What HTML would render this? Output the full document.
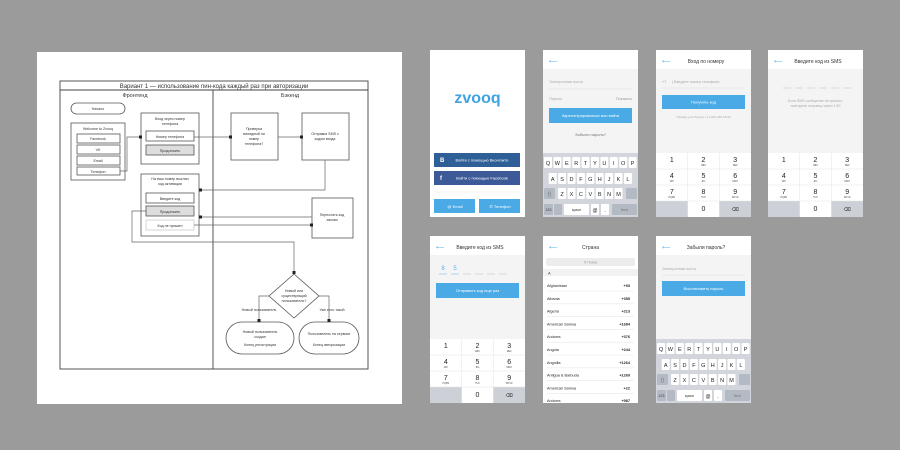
<!DOCTYPE html>
<html><head><meta charset="utf-8"><style>
html,body{margin:0;padding:0;background:#9b9b9b;width:900px;height:450px;overflow:hidden}
svg{display:block;font-family:"Liberation Sans","Noto Sans CJK SC",sans-serif}
</style></head><body>
<svg width="900" height="450" viewBox="0 0 900 450" xmlns="http://www.w3.org/2000/svg">
<rect width="900" height="450" fill="#9b9b9b"/>
<!-- Diagram panel -->
<rect x="37" y="52" width="365" height="352" fill="#fff"/>
<g stroke="#444" stroke-width="0.9" fill="none">
<rect x="60" y="81" width="308" height="288"/>
<line x1="60" y1="90" x2="368" y2="90"/>
<line x1="213" y1="90" x2="213" y2="369"/>
</g>
<g font-size="5" fill="#333" text-anchor="middle">
<text x="214" y="88" font-size="6">Вариант 1 — использование пин-кода каждый раз при авторизации</text>
<text x="135" y="97" font-size="5.5">Фронтенд</text>
<text x="290" y="97" font-size="5.5">Бэкенд</text>
</g>
<g stroke="#555" stroke-width="0.8" fill="#fff">
<rect x="71" y="103" width="54" height="11" rx="5.5"/>
<rect x="71" y="123" width="54" height="57"/>
<rect x="77" y="134" width="43" height="9"/>
<rect x="77" y="145" width="43" height="9"/>
<rect x="77" y="156" width="43" height="9"/>
<rect x="77" y="167" width="43" height="8"/>
<rect x="141" y="113" width="58" height="51"/>
<rect x="146" y="131" width="48" height="10"/>
<rect x="146" y="145" width="48" height="10" fill="#ddd"/>
<rect x="141" y="174" width="58" height="62"/>
<rect x="146" y="193" width="48" height="10"/>
<rect x="146" y="206" width="48" height="10" fill="#ddd"/>
<rect x="146" y="220" width="48" height="10" stroke="#ccc"/>
<rect x="231" y="113" width="47" height="47"/>
<rect x="302" y="113" width="47" height="47"/>
<rect x="312" y="198" width="41" height="40"/>
<polygon points="294,274 319,296 294,318 269,296"/>
<rect x="226" y="322" width="68" height="32" rx="16"/>
<rect x="299" y="322" width="60" height="32" rx="16"/>
</g>
<g stroke="#666" stroke-width="0.7" fill="none">
<polyline points="120,171 127,171 127,137 141,137"/>
<line x1="194" y1="137" x2="231" y2="137"/>
<line x1="278" y1="137" x2="302" y2="137"/>
<polyline points="325,160 325,190 199,190"/>
<line x1="312" y1="217" x2="199" y2="217"/>
<line x1="194" y1="225" x2="312" y2="225"/>
<polyline points="146,211 132,211 132,242 294,242 294,274"/>
<polyline points="269,296 259,296 259,322"/>
<polyline points="319,296 329,296 329,322"/>
</g>
<g fill="#222">
<rect x="139" y="135.5" width="3" height="3"/><rect x="229" y="135.5" width="3" height="3"/><rect x="300" y="135.5" width="3" height="3"/>
<rect x="199" y="188.5" width="3" height="3"/><rect x="199" y="215.5" width="3" height="3"/><rect x="310" y="223.5" width="3" height="3"/>
<rect x="292.5" y="271" width="3" height="3"/><rect x="257.5" y="319" width="3" height="3"/><rect x="327.5" y="319" width="3" height="3"/>
</g>
<g font-size="3.6" fill="#333" text-anchor="middle">
<text x="98" y="110">Начало</text>
<text x="98" y="130">Welcome to Zvooq</text>
<text x="98" y="140">Facebook</text><text x="98" y="151">VK</text><text x="98" y="162">Email</text><text x="98" y="173">Телефон</text>
<text x="170" y="120">Вход через номер</text><text x="170" y="125">телефона</text>
<text x="170" y="138">Номер телефона</text><text x="170" y="152">Продолжить</text>
<text x="170" y="180">На ваш номер выслан</text><text x="170" y="185">код активации</text>
<text x="170" y="200">Введите код</text><text x="170" y="213">Продолжить</text><text x="170" y="227">Код не пришел</text>
<text x="254" y="130">Проверка</text><text x="254" y="135">валидный ли</text><text x="254" y="140">номер</text><text x="254" y="145">телефона?</text>
<text x="325" y="135">Отправка SMS с</text><text x="325" y="140">кодом входа</text>
<text x="332" y="216">Переслать код</text><text x="332" y="221">заново</text>
<text x="294" y="292">Новый или</text><text x="294" y="297">существующий</text><text x="294" y="302">пользователь?</text>
<text x="259" y="311">Новый пользователь</text><text x="332" y="311">Уже есть такой</text>
<text x="260" y="333">Новый пользователь</text><text x="260" y="338">создан</text><text x="260" y="346">Конец регистрации</text>
<text x="329" y="335">Пользователь на сервисе</text><text x="329" y="346">Конец авторизации</text>
</g>

<!-- ===== Row 1 ===== -->
<!-- Phone 1 -->
<g transform="translate(430,50)">
<rect width="95" height="167" fill="#fff"/>
<text x="47.5" y="53" font-size="16" font-weight="bold" fill="#3ea3e2" text-anchor="middle">zvooq</text>
<rect x="4" y="103" width="86" height="14" fill="#2f5f97"/>
<rect x="4" y="121" width="86" height="14" fill="#3d5a98"/>
<text x="10" y="112" font-size="6" fill="#fff" font-weight="bold">B</text>
<text x="10" y="130" font-size="6" fill="#fff" font-weight="bold">f</text>
<text x="52" y="111.5" font-size="4" fill="#fff" text-anchor="middle">Войти с помощью Вконтакте</text>
<text x="52" y="129.5" font-size="4" fill="#fff" text-anchor="middle">Войти с помощью Facebook</text>
<line x1="4" y1="142" x2="90" y2="142" stroke="#eee" stroke-width="0.8"/>
<rect x="4" y="149" width="41" height="14" fill="#4aaae6"/>
<rect x="49" y="149" width="41" height="14" fill="#4aaae6"/>
<text x="25" y="158" font-size="4" fill="#fff" text-anchor="middle">@ Email</text>
<text x="70" y="158" font-size="4" fill="#fff" text-anchor="middle">✆ Телефон</text>
</g>
<!-- Phone 2 -->
<g transform="translate(543,50)">
<rect width="95" height="167" fill="#f4f4f4"/>
<rect width="95" height="19" fill="#fff"/>
<text x="6" y="13" font-size="6" fill="#5bb0e8">⟵</text>
<text x="6" y="33" font-size="3.8" fill="#aaa">Электронная почта</text>
<line x1="6" y1="39" x2="89" y2="39" stroke="#ddd" stroke-width="0.6"/>
<text x="6" y="50" font-size="3.8" fill="#aaa">Пароль</text>
<text x="89" y="50" font-size="3.8" fill="#999" text-anchor="end">Показать</text>
<rect x="6" y="58" width="83" height="15" fill="#4aaae6"/>
<text x="47.5" y="67" font-size="4" fill="#fff" text-anchor="middle">Зарегистрироваться или войти</text>
<text x="47.5" y="86" font-size="4" fill="#777" text-anchor="middle">Забыли пароль?</text>
<g transform="translate(0,103)">
<rect width="95" height="64" fill="#d2d5db"/>
<g fill="#fff"><rect x="1" y="4" width="8" height="11" rx="1"/><rect x="10.4" y="4" width="8" height="11" rx="1"/><rect x="19.8" y="4" width="8" height="11" rx="1"/><rect x="29.2" y="4" width="8" height="11" rx="1"/><rect x="38.6" y="4" width="8" height="11" rx="1"/><rect x="48" y="4" width="8" height="11" rx="1"/><rect x="57.4" y="4" width="8" height="11" rx="1"/><rect x="66.8" y="4" width="8" height="11" rx="1"/><rect x="76.2" y="4" width="8" height="11" rx="1"/><rect x="85.6" y="4" width="8" height="11" rx="1"/>
<rect x="5.7" y="20" width="8" height="11" rx="1"/><rect x="15.1" y="20" width="8" height="11" rx="1"/><rect x="24.5" y="20" width="8" height="11" rx="1"/><rect x="33.9" y="20" width="8" height="11" rx="1"/><rect x="43.3" y="20" width="8" height="11" rx="1"/><rect x="52.7" y="20" width="8" height="11" rx="1"/><rect x="62.1" y="20" width="8" height="11" rx="1"/><rect x="71.5" y="20" width="8" height="11" rx="1"/><rect x="80.9" y="20" width="8" height="11" rx="1"/>
<rect x="15.1" y="35" width="8" height="11" rx="1"/><rect x="24.5" y="35" width="8" height="11" rx="1"/><rect x="33.9" y="35" width="8" height="11" rx="1"/><rect x="43.3" y="35" width="8" height="11" rx="1"/><rect x="52.7" y="35" width="8" height="11" rx="1"/><rect x="62.1" y="35" width="8" height="11" rx="1"/><rect x="71.5" y="35" width="8" height="11" rx="1"/>
<rect x="21" y="51" width="25" height="11" rx="1"/><rect x="48" y="51" width="8" height="11" rx="1"/><rect x="58" y="51" width="8" height="11" rx="1"/></g>
<g fill="#b4bac3"><rect x="1" y="35" width="11" height="11" rx="1"/><rect x="83" y="35" width="11" height="11" rx="1"/><rect x="1" y="51" width="9" height="11" rx="1"/><rect x="11" y="51" width="8" height="11" rx="1"/><rect x="69" y="51" width="25" height="11" rx="1"/></g>
<g font-size="5.5" fill="#222" text-anchor="middle"><text x="5" y="12">Q</text><text x="14.4" y="12">W</text><text x="23.8" y="12">E</text><text x="33.2" y="12">R</text><text x="42.6" y="12">T</text><text x="52" y="12">Y</text><text x="61.4" y="12">U</text><text x="70.8" y="12">I</text><text x="80.2" y="12">O</text><text x="89.6" y="12">P</text>
<text x="9.7" y="28">A</text><text x="19.1" y="28">S</text><text x="28.5" y="28">D</text><text x="37.9" y="28">F</text><text x="47.3" y="28">G</text><text x="56.7" y="28">H</text><text x="66.1" y="28">J</text><text x="75.5" y="28">K</text><text x="84.9" y="28">L</text>
<text x="19.1" y="43">Z</text><text x="28.5" y="43">X</text><text x="37.9" y="43">C</text><text x="47.3" y="43">V</text><text x="56.7" y="43">B</text><text x="66.1" y="43">N</text><text x="75.5" y="43">M</text>
<text x="6.5" y="43" font-size="5">⇧</text><text x="52" y="59" font-size="5">@</text><text x="62" y="59">.</text></g>
<g font-size="3.5" fill="#333" text-anchor="middle"><text x="5.5" y="58">123</text><text x="33.5" y="58">space</text><text x="81.5" y="58" fill="#777">Next</text></g>
</g>
</g>
<!-- Phone 3 -->
<g transform="translate(656,50)">
<rect width="95" height="167" fill="#f4f4f4"/>
<rect width="95" height="19" fill="#fff"/>
<text x="6" y="13" font-size="6" fill="#5bb0e8">⟵</text>
<text x="50" y="13" font-size="5" fill="#333" text-anchor="middle">Вход по номеру</text>
<text x="6" y="33" font-size="3.8" fill="#5bb0e8">+7</text>
<text x="16" y="33" font-size="3.8" fill="#aaa">| Введите номер телефона</text>
<line x1="6" y1="38" x2="89" y2="38" stroke="#ddd" stroke-width="0.6"/>
<rect x="6" y="45" width="83" height="14" fill="#4aaae6"/>
<text x="47.5" y="53.5" font-size="4" fill="#fff" text-anchor="middle">Получить код</text>
<text x="47.5" y="68" font-size="3" fill="#aaa" text-anchor="middle">Пример для России +7 (123) 456-78-90</text>
<g transform="translate(0,103)">
<rect width="95" height="64" fill="#fff"/>
<rect x="0" y="48" width="31.7" height="16" fill="#cdd1d7"/><rect x="63.3" y="48" width="31.7" height="16" fill="#cdd1d7"/>
<g stroke="#e3e3e3" stroke-width="0.5"><line x1="0" y1="16" x2="95" y2="16"/><line x1="0" y1="32" x2="95" y2="32"/><line x1="0" y1="48" x2="95" y2="48"/><line x1="31.7" y1="0" x2="31.7" y2="64"/><line x1="63.3" y1="0" x2="63.3" y2="64"/></g>
<g font-size="7" fill="#222" text-anchor="middle"><text x="15.8" y="9">1</text><text x="47.5" y="9">2</text><text x="79.2" y="9">3</text><text x="15.8" y="25">4</text><text x="47.5" y="25">5</text><text x="79.2" y="25">6</text><text x="15.8" y="41">7</text><text x="47.5" y="41">8</text><text x="79.2" y="41">9</text><text x="47.5" y="58">0</text><text x="79.2" y="58" font-size="5">⌫</text></g>
<g font-size="2.3" fill="#444" text-anchor="middle"><text x="47.5" y="13">ABC</text><text x="79.2" y="13">DEF</text><text x="15.8" y="29">GHI</text><text x="47.5" y="29">JKL</text><text x="79.2" y="29">MNO</text><text x="15.8" y="45">PQRS</text><text x="47.5" y="45">TUV</text><text x="79.2" y="45">WXYZ</text></g>
</g>
</g>
<!-- Phone 4 -->
<g transform="translate(768,50)">
<rect width="95" height="167" fill="#f4f4f4"/>
<rect width="95" height="19" fill="#fff"/>
<text x="6" y="13" font-size="6" fill="#5bb0e8">⟵</text>
<text x="50" y="13" font-size="5" fill="#333" text-anchor="middle">Введите код из SMS</text>
<g stroke="#ccc" stroke-width="0.7"><line x1="15" y1="38" x2="23" y2="38"/><line x1="27" y1="38" x2="35" y2="38"/><line x1="39" y1="38" x2="47" y2="38"/><line x1="51" y1="38" x2="59" y2="38"/><line x1="63" y1="38" x2="71" y2="38"/><line x1="75" y1="38" x2="83" y2="38"/></g>
<text x="47.5" y="52" font-size="3.5" fill="#aaa" text-anchor="middle">Если SMS сообщение не пришло,</text>
<text x="47.5" y="57" font-size="3.5" fill="#aaa" text-anchor="middle">повторите отправку через 1:50</text>
<g transform="translate(0,103)">
<rect width="95" height="64" fill="#fff"/>
<rect x="0" y="48" width="31.7" height="16" fill="#cdd1d7"/><rect x="63.3" y="48" width="31.7" height="16" fill="#cdd1d7"/>
<g stroke="#e3e3e3" stroke-width="0.5"><line x1="0" y1="16" x2="95" y2="16"/><line x1="0" y1="32" x2="95" y2="32"/><line x1="0" y1="48" x2="95" y2="48"/><line x1="31.7" y1="0" x2="31.7" y2="64"/><line x1="63.3" y1="0" x2="63.3" y2="64"/></g>
<g font-size="7" fill="#222" text-anchor="middle"><text x="15.8" y="9">1</text><text x="47.5" y="9">2</text><text x="79.2" y="9">3</text><text x="15.8" y="25">4</text><text x="47.5" y="25">5</text><text x="79.2" y="25">6</text><text x="15.8" y="41">7</text><text x="47.5" y="41">8</text><text x="79.2" y="41">9</text><text x="47.5" y="58">0</text><text x="79.2" y="58" font-size="5">⌫</text></g>
<g font-size="2.3" fill="#444" text-anchor="middle"><text x="47.5" y="13">ABC</text><text x="79.2" y="13">DEF</text><text x="15.8" y="29">GHI</text><text x="47.5" y="29">JKL</text><text x="79.2" y="29">MNO</text><text x="15.8" y="45">PQRS</text><text x="47.5" y="45">TUV</text><text x="79.2" y="45">WXYZ</text></g>
</g>
</g>

<!-- ===== Row 2 ===== -->
<!-- Phone 5 -->
<g transform="translate(430,236)">
<rect width="95" height="167" fill="#f4f4f4"/>
<rect width="95" height="19" fill="#fff"/>
<text x="6" y="13" font-size="6" fill="#5bb0e8">⟵</text>
<text x="50" y="13" font-size="5" fill="#333" text-anchor="middle">Введите код из SMS</text>
<text x="13" y="34" font-size="6" fill="#5bb0e8" text-anchor="middle">8</text>
<text x="25" y="34" font-size="6" fill="#5bb0e8" text-anchor="middle">5</text>
<g stroke="#ccc" stroke-width="0.7"><line x1="9" y1="38" x2="17" y2="38" stroke="#8cc8ee"/><line x1="21" y1="38" x2="29" y2="38" stroke="#8cc8ee"/><line x1="33" y1="38" x2="41" y2="38"/><line x1="45" y1="38" x2="53" y2="38"/><line x1="57" y1="38" x2="65" y2="38"/><line x1="69" y1="38" x2="77" y2="38"/></g>
<rect x="6" y="47" width="83" height="15" fill="#4aaae6"/>
<text x="47.5" y="56" font-size="4" fill="#fff" text-anchor="middle">Отправить код еще раз</text>
<g transform="translate(0,103)">
<rect width="95" height="64" fill="#fff"/>
<rect x="0" y="48" width="31.7" height="16" fill="#cdd1d7"/><rect x="63.3" y="48" width="31.7" height="16" fill="#cdd1d7"/>
<g stroke="#e3e3e3" stroke-width="0.5"><line x1="0" y1="16" x2="95" y2="16"/><line x1="0" y1="32" x2="95" y2="32"/><line x1="0" y1="48" x2="95" y2="48"/><line x1="31.7" y1="0" x2="31.7" y2="64"/><line x1="63.3" y1="0" x2="63.3" y2="64"/></g>
<g font-size="7" fill="#222" text-anchor="middle"><text x="15.8" y="9">1</text><text x="47.5" y="9">2</text><text x="79.2" y="9">3</text><text x="15.8" y="25">4</text><text x="47.5" y="25">5</text><text x="79.2" y="25">6</text><text x="15.8" y="41">7</text><text x="47.5" y="41">8</text><text x="79.2" y="41">9</text><text x="47.5" y="58">0</text><text x="79.2" y="58" font-size="5">⌫</text></g>
<g font-size="2.3" fill="#444" text-anchor="middle"><text x="47.5" y="13">ABC</text><text x="79.2" y="13">DEF</text><text x="15.8" y="29">GHI</text><text x="47.5" y="29">JKL</text><text x="79.2" y="29">MNO</text><text x="15.8" y="45">PQRS</text><text x="47.5" y="45">TUV</text><text x="79.2" y="45">WXYZ</text></g>
</g>
</g>
<!-- Phone 6 -->
<g transform="translate(543,236)">
<rect width="95" height="167" fill="#fff"/>
<text x="6" y="13" font-size="6" fill="#5bb0e8">⟵</text>
<text x="47.5" y="13" font-size="5" fill="#333" text-anchor="middle">Страна</text>
<rect x="3" y="22" width="89" height="8" rx="2" fill="#ececec"/>
<text x="47.5" y="27.5" font-size="3.5" fill="#999" text-anchor="middle">⚲ Поиск</text>
<rect x="0" y="33" width="95" height="7" fill="#f2f2f2"/>
<text x="5" y="38.5" font-size="4" fill="#333">A</text>
<g font-size="3.8" fill="#222">
<text x="4" y="51">Afghanistan</text><text x="4" y="63.8">Albania</text><text x="4" y="76.6">Algeria</text><text x="4" y="89.4">American Samoa</text><text x="4" y="102.2">Andorra</text><text x="4" y="115">Angola</text><text x="4" y="127.8">Anguilla</text><text x="4" y="140.6">Antigua &amp; Barbuda</text><text x="4" y="153.4">American Samoa</text><text x="4" y="166.2">Andorra</text>
</g>
<g font-size="3.8" fill="#222" text-anchor="end" font-weight="bold">
<text x="87" y="51">+93</text><text x="87" y="63.8">+355</text><text x="87" y="76.6">+213</text><text x="87" y="89.4">+1684</text><text x="87" y="102.2">+376</text><text x="87" y="115">+244</text><text x="87" y="127.8">+1264</text><text x="87" y="140.6">+1269</text><text x="87" y="153.4">+22</text><text x="87" y="166.2">+987</text>
</g>
<g stroke="#e8e8e8" stroke-width="0.6"><line x1="4" y1="55" x2="91" y2="55"/><line x1="4" y1="67.8" x2="91" y2="67.8"/><line x1="4" y1="80.6" x2="91" y2="80.6"/><line x1="4" y1="93.4" x2="91" y2="93.4"/><line x1="4" y1="106.2" x2="91" y2="106.2"/><line x1="4" y1="119" x2="91" y2="119"/><line x1="4" y1="131.8" x2="91" y2="131.8"/><line x1="4" y1="144.6" x2="91" y2="144.6"/><line x1="4" y1="157.4" x2="91" y2="157.4"/></g>
</g>
<!-- Phone 7 -->
<g transform="translate(656,236)">
<rect width="95" height="167" fill="#f4f4f4"/>
<rect width="95" height="19" fill="#fff"/>
<text x="6" y="13" font-size="6" fill="#5bb0e8">⟵</text>
<text x="50" y="13" font-size="5" fill="#333" text-anchor="middle">Забыли пароль?</text>
<text x="6" y="34" font-size="3.8" fill="#aaa">Электронная почта</text>
<line x1="6" y1="39" x2="89" y2="39" stroke="#ddd" stroke-width="0.6"/>
<rect x="6" y="45" width="83" height="15" fill="#4aaae6"/>
<text x="47.5" y="54" font-size="4" fill="#fff" text-anchor="middle">Восстановить пароль</text>
<g transform="translate(0,103)">
<rect width="95" height="64" fill="#d2d5db"/>
<g fill="#fff"><rect x="1" y="4" width="8" height="11" rx="1"/><rect x="10.4" y="4" width="8" height="11" rx="1"/><rect x="19.8" y="4" width="8" height="11" rx="1"/><rect x="29.2" y="4" width="8" height="11" rx="1"/><rect x="38.6" y="4" width="8" height="11" rx="1"/><rect x="48" y="4" width="8" height="11" rx="1"/><rect x="57.4" y="4" width="8" height="11" rx="1"/><rect x="66.8" y="4" width="8" height="11" rx="1"/><rect x="76.2" y="4" width="8" height="11" rx="1"/><rect x="85.6" y="4" width="8" height="11" rx="1"/>
<rect x="5.7" y="20" width="8" height="11" rx="1"/><rect x="15.1" y="20" width="8" height="11" rx="1"/><rect x="24.5" y="20" width="8" height="11" rx="1"/><rect x="33.9" y="20" width="8" height="11" rx="1"/><rect x="43.3" y="20" width="8" height="11" rx="1"/><rect x="52.7" y="20" width="8" height="11" rx="1"/><rect x="62.1" y="20" width="8" height="11" rx="1"/><rect x="71.5" y="20" width="8" height="11" rx="1"/><rect x="80.9" y="20" width="8" height="11" rx="1"/>
<rect x="15.1" y="35" width="8" height="11" rx="1"/><rect x="24.5" y="35" width="8" height="11" rx="1"/><rect x="33.9" y="35" width="8" height="11" rx="1"/><rect x="43.3" y="35" width="8" height="11" rx="1"/><rect x="52.7" y="35" width="8" height="11" rx="1"/><rect x="62.1" y="35" width="8" height="11" rx="1"/><rect x="71.5" y="35" width="8" height="11" rx="1"/>
<rect x="21" y="51" width="25" height="11" rx="1"/><rect x="48" y="51" width="8" height="11" rx="1"/><rect x="58" y="51" width="8" height="11" rx="1"/></g>
<g fill="#b4bac3"><rect x="1" y="35" width="11" height="11" rx="1"/><rect x="83" y="35" width="11" height="11" rx="1"/><rect x="1" y="51" width="9" height="11" rx="1"/><rect x="11" y="51" width="8" height="11" rx="1"/><rect x="69" y="51" width="25" height="11" rx="1"/></g>
<g font-size="5.5" fill="#222" text-anchor="middle"><text x="5" y="12">Q</text><text x="14.4" y="12">W</text><text x="23.8" y="12">E</text><text x="33.2" y="12">R</text><text x="42.6" y="12">T</text><text x="52" y="12">Y</text><text x="61.4" y="12">U</text><text x="70.8" y="12">I</text><text x="80.2" y="12">O</text><text x="89.6" y="12">P</text>
<text x="9.7" y="28">A</text><text x="19.1" y="28">S</text><text x="28.5" y="28">D</text><text x="37.9" y="28">F</text><text x="47.3" y="28">G</text><text x="56.7" y="28">H</text><text x="66.1" y="28">J</text><text x="75.5" y="28">K</text><text x="84.9" y="28">L</text>
<text x="19.1" y="43">Z</text><text x="28.5" y="43">X</text><text x="37.9" y="43">C</text><text x="47.3" y="43">V</text><text x="56.7" y="43">B</text><text x="66.1" y="43">N</text><text x="75.5" y="43">M</text>
<text x="6.5" y="43" font-size="5">⇧</text><text x="52" y="59" font-size="5">@</text><text x="62" y="59">.</text></g>
<g font-size="3.5" fill="#333" text-anchor="middle"><text x="5.5" y="58">123</text><text x="33.5" y="58">space</text><text x="81.5" y="58" fill="#777">Next</text></g>
</g>
</g>
</svg>
</body></html>
